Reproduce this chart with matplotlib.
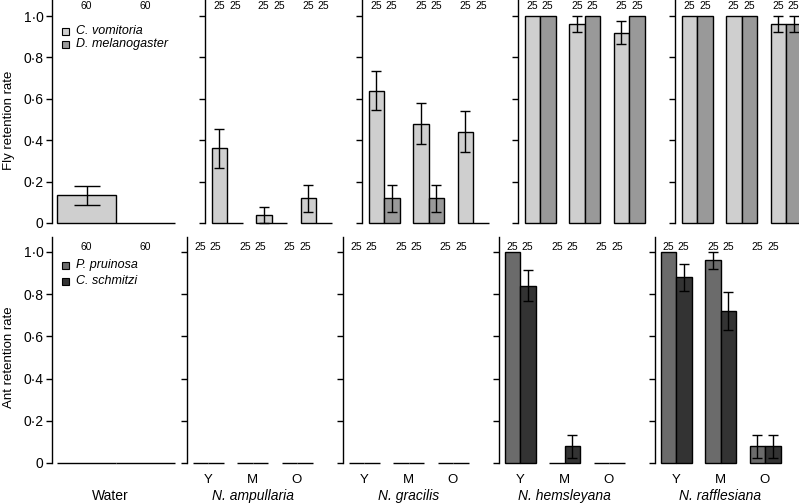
import matplotlib.pyplot as plt
from matplotlib.patches import Rectangle

plt.rcParams['font.family'] = ['Liberation Sans', 'DejaVu Sans']

# ---- data ----
ages = ['Y', 'M', 'O']
plants = ['N. ampullaria', 'N. gracilis', 'N. hemsleyana', 'N. rafflesiana']

# fly retention: C. vomitoria / D. melanogaster
fly_water = [0.133, 0.0]
fly_water_err = [0.044, 0.0]
cv_rate = [[0.36, 0.04, 0.12], [0.64, 0.48, 0.44], [1.0, 0.96, 0.92], [1.0, 1.0, 0.96]]
cv_err = [[0.096, 0.039, 0.065], [0.096, 0.10, 0.099], [0.0, 0.039, 0.054], [0.0, 0.0, 0.039]]
dm_rate = [[0.0, 0.0, 0.0], [0.12, 0.12, 0.0], [1.0, 1.0, 1.0], [1.0, 1.0, 0.96]]
dm_err = [[0.0, 0.0, 0.0], [0.065, 0.065, 0.0], [0.0, 0.0, 0.0], [0.0, 0.0, 0.039]]

# ant retention: P. pruinosa / C. schmitzi
ant_water = [0.0, 0.0]
ant_water_err = [0.0, 0.0]
pp_rate = [[0, 0, 0], [0, 0, 0], [1.0, 0.0, 0.0], [1.0, 0.96, 0.08]]
pp_err = [[0, 0, 0], [0, 0, 0], [0.0, 0.0, 0.0], [0.0, 0.039, 0.054]]
cs_rate = [[0, 0, 0], [0, 0, 0], [0.84, 0.08, 0.0], [0.88, 0.72, 0.08]]
cs_err = [[0, 0, 0], [0, 0, 0], [0.073, 0.054, 0.0], [0.065, 0.09, 0.054]]

n_water = 60
n_group = 25

col_cv, col_dm = '#cfcfcf', '#999999'
col_pp, col_cs = '#6b6b6b', '#333333'

W, H = 799, 503
fig = plt.figure(figsize=(W / 100, H / 100), dpi=100)


def px_axes(left, top, width, height):
    return fig.add_axes([left / W, 1 - (top + height) / H, width / W, height / H])


def style(ax, ytop, labels):
    for s in ['top', 'right', 'bottom']:
        ax.spines[s].set_visible(False)
    ax.spines['left'].set_linewidth(1)
    ax.set_ylim(0, ytop)
    ax.set_yticks([0, 0.2, 0.4, 0.6, 0.8, 1.0])
    if labels:
        ax.set_yticklabels(['0', '0·2', '0·4', '0·6', '0·8', '1·0'])
    else:
        ax.set_yticklabels([])
    ax.tick_params(axis='y', length=4, width=1, labelsize=10, pad=2)
    ax.set_xticks([])
    ax.patch.set_alpha(0)


def draw_pair(ax, xs, v1, e1, v2, e2, c1, c2, width, cap, nlab, ny):
    for x, a, ea, b, eb in zip(xs, v1, e1, v2, e2):
        x1, x2 = x - width / 2, x + width / 2
        ax.bar([x1, x2], [a, b], width, color=[c1, c2], edgecolor='black',
               linewidth=1, clip_on=False, zorder=2)
        for xx, v, e in [(x1, a, ea), (x2, b, eb)]:
            if e > 0:
                ax.errorbar(xx, v, yerr=e, fmt='none', ecolor='black', elinewidth=1,
                            capsize=cap, capthick=1, clip_on=False, zorder=3)
            ax.text(xx, ny, str(nlab), ha='center', va='center', fontsize=7.5)


top_left = [52, 205, 362, 518, 675]
bot_left = [52, 187, 343, 499, 655]
top_h, bot_h = 223, 226
top_ytop = 223 / 207
bot_ytop = 226 / 211
grp_px = 44.5
wat_px = 59
pw = 148

# ---- top row: flies ----
ax = px_axes(top_left[0], 0, pw, top_h)
ax.set_xlim(-1 - 5 / wat_px, -1 - 5 / wat_px + pw / wat_px)
style(ax, top_ytop, True)
draw_pair(ax, [0], [fly_water[0]], [fly_water_err[0]], [fly_water[1]], [fly_water_err[1]],
          col_cv, col_dm, 1.0, 9.5, n_water, (223 - 6) / 207)
ax.add_patch(Rectangle((62 / W, 1 - 35 / H), 7 / W, 7 / H, transform=fig.transFigure,
                       facecolor=col_cv, edgecolor='black', lw=0.8))
ax.add_patch(Rectangle((62 / W, 1 - 48 / H), 7 / W, 7 / H, transform=fig.transFigure,
                       facecolor=col_dm, edgecolor='black', lw=0.8))
fig.text(76 / W, 1 - 31.5 / H, 'C. vomitoria', style='italic', fontsize=9, va='center')
fig.text(76 / W, 1 - 44.5 / H, 'D. melanogaster', style='italic', fontsize=9, va='center')

for i in range(4):
    ax = px_axes(top_left[i + 1], 0, pw, top_h)
    x0 = -22 / grp_px
    ax.set_xlim(x0, x0 + pw / grp_px)
    style(ax, top_ytop, False)
    draw_pair(ax, [0, 1, 2], cv_rate[i], cv_err[i], dm_rate[i], dm_err[i],
              col_cv, col_dm, 15.5 / grp_px, 3.3, n_group, (223 - 6) / 207)

# ---- bottom row: ants ----
ax = px_axes(bot_left[0], 237, pw, bot_h)
ax.set_xlim(-1 - 5 / wat_px, -1 - 5 / wat_px + pw / wat_px)
style(ax, bot_ytop, True)
draw_pair(ax, [0], [ant_water[0]], [ant_water_err[0]], [ant_water[1]], [ant_water_err[1]],
          col_pp, col_cs, 1.0, 9.5, n_water, (463 - 247) / 211)
ax.text(-0.1, -(496 - 463) / bot_h, 'Water', transform=ax.get_xaxis_transform(),
        ha='center', va='center', fontsize=10)
ax.add_patch(Rectangle((62 / W, 1 - 268.5 / H), 7 / W, 7 / H, transform=fig.transFigure,
                       facecolor=col_pp, edgecolor='black', lw=0.8))
ax.add_patch(Rectangle((62 / W, 1 - 285 / H), 7 / W, 7 / H, transform=fig.transFigure,
                       facecolor=col_cs, edgecolor='black', lw=0.8))
fig.text(76 / W, 1 - 265 / H, 'P. pruinosa', style='italic', fontsize=9, va='center')
fig.text(76 / W, 1 - 281.5 / H, 'C. schmitzi', style='italic', fontsize=9, va='center')

for i in range(4):
    ax = px_axes(bot_left[i + 1], 237, pw, bot_h)
    x0 = -21 / grp_px
    ax.set_xlim(x0, x0 + pw / grp_px)
    style(ax, bot_ytop, False)
    draw_pair(ax, [0, 1, 2], pp_rate[i], pp_err[i], cs_rate[i], cs_err[i],
              col_pp, col_cs, 15.5 / grp_px, 3.3, n_group, (463 - 247) / 211)
    tr = ax.get_xaxis_transform()
    for j, a in enumerate(ages):
        ax.text(j, -(480 - 463) / bot_h, a, transform=tr, ha='center', va='center', fontsize=9.5)
    ax.text(1, -(496 - 463) / bot_h, plants[i], transform=tr, ha='center', va='center',
            fontsize=10, style='italic')

fig.text(9 / W, 1 - 120 / H, 'Fly retention rate', rotation=90, ha='center', va='center', fontsize=9.5)
fig.text(9 / W, 1 - 357 / H, 'Ant retention rate', rotation=90, ha='center', va='center', fontsize=9.5)

fig.savefig('out.png', dpi=100)
